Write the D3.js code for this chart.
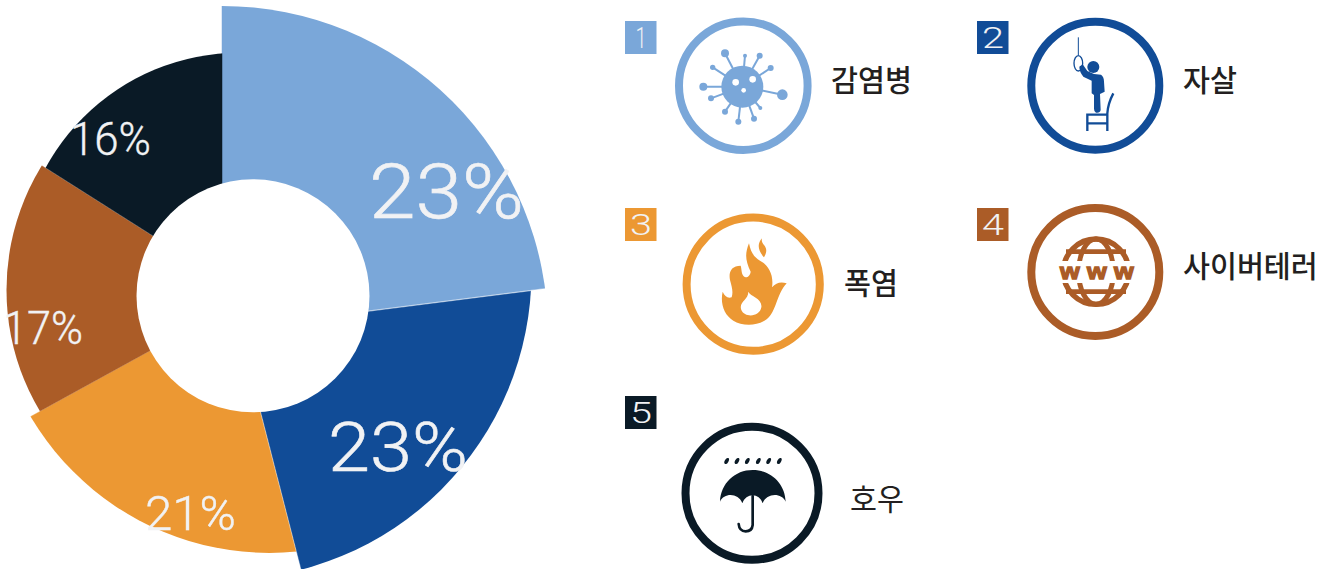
<!DOCTYPE html>
<html lang="ko">
<head>
<meta charset="utf-8">
<title>Chart</title>
<script src="https://cdn.jsdelivr.net/npm/d3@7/dist/d3.min.js"></script>
<style>
html,body{margin:0;padding:0;background:#fff;overflow:hidden}
svg{display:block}
</style>
</head>
<body>
<svg id="chart" width="1336" height="569"></svg>
<script>
// --- data ---
const categories = ["감염병", "자살", "폭염", "사이버테러", "호우"];
const shares = [23, 23, 21, 17, 16];
const ranks = [1, 2, 3, 4, 5];
const colors = ["#7aa7d9", "#114c97", "#ec9833", "#ab5c27", "#0a1a26"];

// --- layout of the deliberately offset wedges ---
const apexes = [[222,329],[239.4,328],[232.7,305.5],[248.2,296.7],[222,279.5]];
const rims = [[222,332,326],[224,272,307.5],[269.5,275.4,277.5],[243,290,236.5],[239.5,273.7,221]];
const pctBoxes = [[369,218,155,76],[328,471,140,68],[145,530,91,49],[3,344,80,46],[70,155,81,46]];
const swatches = [[625,21],[977,21],[625,208],[977,208],[625,396]];
const rings = [[743.3,85.7,64.3],[1095.3,85.7,64],[753.2,284.2,66.6],[1095.3,272,64],[752,493.3,66.5]];
const nameAnchors = [[831,90.5],[1183,90.5],[844,293.5],[1183,277],[850,509.5]];
const iconOrigins = [[620,10],[970,10],[620,200],[970,200],[620,390]];

const svg = d3.select("#chart");
const defs = svg.append("defs");
const pct = v => v + "%";
const TITLE_FONT = "Roboto, 'Open Sans', sans-serif";
const WHITE = "#f1f2f4";

// --- donut ---
const pie = d3.pie().sort(null).value(d => d);
const wedge = d3.arc().innerRadius(0).outerRadius(900);
const slices = pie(shares);

slices.forEach((s, i) => {
  defs.append("clipPath").attr("id", "rim" + i)
    .append("circle").attr("cx", rims[i][0]).attr("cy", rims[i][1]).attr("r", rims[i][2]);
  svg.append("g").attr("clip-path", `url(#rim${i})`)
    .append("path")
    .attr("transform", `translate(${apexes[i][0]},${apexes[i][1]})`)
    .attr("d", wedge(s))
    .attr("fill", colors[i])
    .attr("stroke", colors[i])
    .attr("stroke-width", 0.5);
});

svg.append("circle").attr("cx", 253).attr("cy", 295.8).attr("r", 116.5).attr("fill", "#fff");

slices.forEach((s, i) => {
  const [x, y, w, size] = pctBoxes[i];
  svg.append("text")
    .attr("x", x).attr("y", y)
    .attr("textLength", w).attr("lengthAdjust", "spacingAndGlyphs")
    .attr("font-family", TITLE_FONT).attr("font-weight", 300)
    .attr("font-size", size).attr("fill", WHITE)
    .attr("stroke", WHITE).attr("stroke-width", size / 120)
    .text(pct(s.data));
});

// --- legend ---
categories.forEach((name, i) => {
  const [sx, sy] = swatches[i];
  svg.append("rect").attr("x", sx).attr("y", sy).attr("width", 31.5).attr("height", 33).attr("fill", colors[i]);
  svg.append("text").attr("x", sx + 16).attr("y", sy + 27)
    .attr("text-anchor", "middle").attr("textLength", i === 0 ? 11 : 22).attr("lengthAdjust", "spacingAndGlyphs")
    .attr("font-family", TITLE_FONT).attr("font-weight", 300).attr("font-size", 29).attr("fill", WHITE)
    .text(ranks[i]);
  const [cx, cy, r] = rings[i];
  svg.append("circle").attr("cx", cx).attr("cy", cy).attr("r", r)
    .attr("fill", "#fff").attr("stroke", colors[i]).attr("stroke-width", 8);
  const [tx, ty] = nameAnchors[i];
  svg.append("text").attr("x", tx).attr("y", ty)
    .attr("font-family", "'Noto Sans CJK KR', sans-serif").attr("font-weight", i === 4 ? 400 : 500)
    .attr("font-size", 29.3).attr("fill", "#231f20")
    .text(name);
});

// --- pictograms, drawn in 3x units relative to their origin ---
function icon(i) {
  return svg.append("g").attr("transform", `translate(${iconOrigins[i][0]},${iconOrigins[i][1]}) scale(${1/3})`);
}

// virus
(function () {
  const g = icon(0), c = colors[0], hub = [367, 230];
  const balls = [[315,130,12],[375,137,6],[419,137,9],[452,174,9],[278,172,8],[250,230,12],
                 [273,265,9],[487,254,16],[421,294,6],[402,326,9],[355,335,9],[315,305,9]];
  balls.forEach(b => {
    g.append("line").attr("x1", hub[0]).attr("y1", hub[1]).attr("x2", b[0]).attr("y2", b[1])
      .attr("stroke", c).attr("stroke-width", 6);
    g.append("circle").attr("cx", b[0]).attr("cy", b[1]).attr("r", b[2]).attr("fill", c);
  });
  g.append("circle").attr("cx", hub[0]).attr("cy", hub[1]).attr("r", 63).attr("fill", c);
  [[347,217,10],[398,208,10],[371,241,7]].forEach(h =>
    g.append("circle").attr("cx", h[0]).attr("cy", h[1]).attr("r", h[2]).attr("fill", "#fff"));
})();

// figure on a chair
(function () {
  const g = icon(1), c = colors[1];
  g.append("line").attr("x1", 325).attr("y1", 82).attr("x2", 325).attr("y2", 135).attr("stroke", c).attr("stroke-width", 3);
  g.append("ellipse").attr("cx", 325).attr("cy", 160).attr("rx", 13).attr("ry", 23)
    .attr("fill", "none").attr("stroke", c).attr("stroke-width", 4);
  g.append("circle").attr("cx", 370).attr("cy", 171).attr("r", 18).attr("fill", c);
  g.append("path").attr("fill", c)
    .attr("d", "M328,170 L338,163 L352,183 L372,192 L393,194 Q402,200 402,215 L404,245 L390,252 L392,300 Q390,310 378,308 Q372,306 372,296 L372,255 L365,250 L365,212 L340,200 Q328,185 328,170 Z");
  g.append("path").attr("fill", "none").attr("stroke", c).attr("stroke-width", 7)
    .attr("d", "M352,363 V314 H412 M352,340 H412 M412,363 V310 Q414,280 430,250");
})();

// flame
(function () {
  const g = icon(2), c = colors[2];
  g.append("path").attr("fill", c).attr("fill-rule", "evenodd")
    .attr("d", "M387,130 C375,160 375,180 392,215 C390,232 372,240 366,220 C364,210 364,203 362,197 C335,197 325,215 330,240 C336,262 340,275 335,292 C322,296 314,288 308,275 C300,310 312,345 340,362 C365,378 410,380 440,358 C470,335 468,285 500,250 C482,245 468,248 456,262 C462,225 445,195 420,182 C400,170 392,155 387,130 Z M385,275 C392,290 428,295 424,322 C420,350 375,355 364,330 C355,305 385,300 385,275 Z");
  g.append("path").attr("fill", c)
    .attr("d", "M426,115 C412,130 412,150 432,172 C442,155 440,145 432,135 C426,128 424,122 426,115 Z");
})();

// globe
(function () {
  const g = icon(3), c = colors[3];
  const o = [378, 215];
  g.append("circle").attr("cx", o[0]).attr("cy", o[1]).attr("r", 98).attr("fill", "none").attr("stroke", c).attr("stroke-width", 16);
  g.append("ellipse").attr("cx", o[0]).attr("cy", o[1]).attr("rx", 52).attr("ry", 98).attr("fill", "none").attr("stroke", c).attr("stroke-width", 15);
  [155, 275].forEach(y => g.append("line").attr("x1", o[0]-90).attr("x2", o[0]+90).attr("y1", y).attr("y2", y).attr("stroke", c).attr("stroke-width", 14));
  g.append("rect").attr("x", 255).attr("y", 183).attr("width", 246).attr("height", 66).attr("fill", "#fff");
  g.append("text").attr("transform", "translate(270,236) scale(1.15,1)").attr("letter-spacing", 19)
    .attr("font-family", "'Liberation Sans', sans-serif").attr("font-weight", 700).attr("font-size", 66)
    .attr("fill", c).attr("stroke", c).attr("stroke-width", 4)
    .text("www");
})();

// umbrella
(function () {
  const g = icon(4), c = colors[4];
  [320,351,382,415,446,478].forEach(x =>
    g.append("ellipse").attr("rx", 5.5).attr("ry", 10)
      .attr("transform", `translate(${x},213) rotate(30)`).attr("fill", c));
  g.append("path").attr("fill", c)
    .attr("d", "M300,335 C302,280 345,240 398,240 C452,240 495,280 497,335 C485,308 440,308 428,340 C418,308 378,308 367,340 C355,308 312,308 300,335 Z");
  g.append("path").attr("fill", "none").attr("stroke", c).attr("stroke-width", 8).attr("stroke-linecap", "round")
    .attr("d", "M398,318 V405 Q396,424 377,424 Q358,424 356,402");
})();
</script>
</body>
</html>
